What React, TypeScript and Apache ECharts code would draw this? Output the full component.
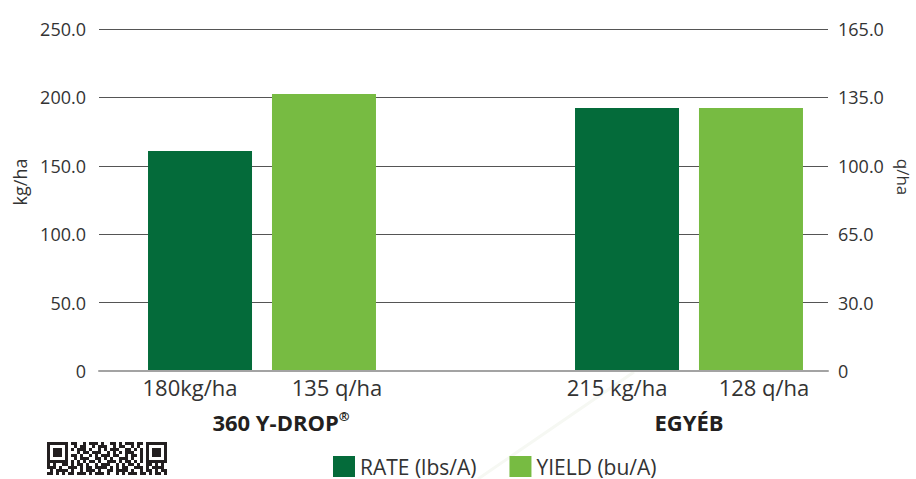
import React, { useEffect, useRef } from "react";
import * as echarts from "echarts";

const categories = ["360 Y-DROP®", "EGYÉB"];
const rateValues = [160.8, 192.3];
const yieldValues = [133.6, 126.9];
const rateLabels = ["180kg/ha", "215 kg/ha"];
const yieldLabels = ["135 q/ha", "128 q/ha"];
const seriesNames = ["RATE (lbs/A)", "YIELD (bu/A)"];
const leftAxisName = "kg/ha";
const rightAxisName = "q/ha";
const leftMax = 250;
const leftInterval = 50;
const rightMax = 165;
const rightInterval = 33;
const rightTickLabels = ["0", "30.0", "65.0", "100.0", "135.0", "165.0"];

const DARK = "#046b3a";
const LIGHT = "#77bb42";
const TEXT = "#333333";
const FONT = "'Open Sans', sans-serif";

const finder = ["#######", "#.....#", "#.###.#", "#.###.#", "#.###.#", "#.....#", "#######"];
const qrMiddle = [
  "##..#.###.#..##.#.###.##",
  ".#.##..#.###..#.##..#.#.",
  "#.###.#..#.#.###..##.#.#",
  "..#.##.###..#.#.#.###..#",
  "##.#..#.#.###.##..#.##.#",
  ".#.###..##.#.#..###.#..#",
  "#.#.#.##.#..###.#.##.#.#",
];
const qrBottom = [
  "#.#..##.#.##.#..#.###..#.#.##.#..##.#.#.",
  "###.#..###.#.##.####.#.#.##..###.#.####.",
  ".#.####.#..#.###.#..##.####.#..#.##.#.##",
  "##.#.#.##.###.#.###.#..#.#.###.##.#.##.#",
];
const qrRows = [
  ...finder.map((f, i) => f + "." + qrMiddle[i] + "." + f),
  ...qrBottom,
].map((r) => r.padEnd(40, ".").slice(0, 40));

function qrRects() {
  const out: any[] = [];
  const m = 3;
  qrRows.forEach((row, r) => {
    let c = 0;
    while (c < row.length) {
      if (row[c] === "#") {
        const s = c;
        while (c < row.length && row[c] === "#") c++;
        out.push({
          type: "rect",
          shape: { x: 47 + s * m, y: 442 + r * m, width: (c - s) * m, height: m },
          style: { fill: "#231f20" },
        });
      } else c++;
    }
  });
  return out;
}

export default function App() {
  const ref = useRef<HTMLDivElement>(null);
  useEffect(() => {
    if (!ref.current) return;
    const chart = echarts.init(ref.current, null, { renderer: "svg" });
    const gridTop = 29;
    const gridBottom = 108;
    chart.setOption({
      animation: false,
      backgroundColor: "#ffffff",
      textStyle: { fontFamily: FONT },
      grid: [
        { left: 99, right: 88, top: gridTop, bottom: gridBottom, containLabel: false, outerBoundsMode: "none" },
        { left: 48.5, right: 13.5, top: gridTop, bottom: gridBottom, containLabel: false, outerBoundsMode: "none" },
      ],
      xAxis: [
        {
          type: "category",
          gridIndex: 0,
          data: [""],
          z: 3,
          axisLine: { show: true, lineStyle: { color: "#a3a3a3", width: 2 } },
          axisTick: { show: false },
          axisLabel: { show: false },
          splitLine: { show: false },
        },
        {
          type: "category",
          gridIndex: 1,
          data: categories,
          axisLine: { show: false },
          axisTick: { show: false },
          splitLine: { show: false },
          axisLabel: {
            margin: 38,
            interval: 0,
            formatter: (v: string) =>
              v.endsWith("®")
                ? `{pad|\u00a0}{b|${v.slice(0, -1)}}{sup|®}`
                : `{b|${v}}`,
            rich: {
              pad: { width: 38, fontSize: 22, lineHeight: 26 },
              b: { fontSize: 22, fontWeight: "bold", color: "#231f20", fontFamily: FONT, lineHeight: 26 },
              sup: { fontSize: 13, fontWeight: "bold", color: "#231f20", fontFamily: FONT, verticalAlign: "top", lineHeight: 22 },
            },
          },
        },
      ],
      yAxis: [
        {
          type: "value",
          gridIndex: 0,
          min: 0,
          max: leftMax,
          interval: leftInterval,
          position: "left",
          axisLine: { show: false },
          axisTick: { show: false },
          splitLine: { show: true, lineStyle: { color: "#555555", width: 1 } },
          axisLabel: {
            margin: 13,
            fontSize: 18,
            color: TEXT,
            fontFamily: FONT,
            formatter: (v: number) => (v === 0 ? "0" : v.toFixed(1)),
          },
        },
        {
          type: "value",
          gridIndex: 0,
          min: 0,
          max: rightMax,
          interval: rightInterval,
          position: "right",
          axisLine: { show: false },
          axisTick: { show: false },
          splitLine: { show: false },
          axisLabel: {
            margin: 10,
            fontSize: 18,
            color: TEXT,
            fontFamily: FONT,
            formatter: (_v: number, i: number) => rightTickLabels[i] ?? "",
          },
        },
        { type: "value", gridIndex: 1, min: 0, max: leftMax, show: false, splitLine: { show: false } },
        { type: "value", gridIndex: 1, min: 0, max: rightMax, show: false, splitLine: { show: false } },
      ],
      legend: {
        left: 333,
        top: 456,
        padding: 0,
        itemWidth: 22,
        itemHeight: 21,
        itemGap: 33,
        icon: "rect",
        textStyle: { fontSize: 21, color: TEXT, fontFamily: FONT, lineHeight: 21 },
        data: seriesNames,
      },
      series: [
        {
          name: seriesNames[0],
          type: "bar",
          xAxisIndex: 1,
          yAxisIndex: 2,
          data: rateValues,
          barWidth: 104,
          barGap: "19.2%",
          itemStyle: { color: DARK },
          label: {
            show: true,
            position: "bottom",
            distance: 5,
            offset: [-10, 0],
            fontSize: 22,
            color: TEXT,
            fontFamily: FONT,
            formatter: (p: any) => rateLabels[p.dataIndex],
          },
        },
        {
          name: seriesNames[1],
          type: "bar",
          xAxisIndex: 1,
          yAxisIndex: 3,
          data: yieldValues,
          barWidth: 104,
          barGap: "19.2%",
          itemStyle: { color: LIGHT },
          label: {
            show: true,
            position: "bottom",
            distance: 5,
            offset: [13, 0],
            fontSize: 22,
            color: TEXT,
            fontFamily: FONT,
            formatter: (p: any) => yieldLabels[p.dataIndex],
          },
        },
      ],
      graphic: [
        {
          type: "line",
          z: -1,
          shape: { x1: 634, y1: 372, x2: 478, y2: 479 },
          style: { stroke: "#f6f8f3", lineWidth: 3 },
          silent: true,
        },
        {
          type: "text",
          x: 20,
          y: 182,
          rotation: Math.PI / 2,
          style: { text: leftAxisName, fontSize: 18, fill: TEXT, fontFamily: FONT, align: "center", verticalAlign: "middle" },
        },
        {
          type: "text",
          x: 903,
          y: 177,
          rotation: -Math.PI / 2,
          style: { text: rightAxisName, fontSize: 17, fill: TEXT, fontFamily: FONT, align: "center", verticalAlign: "middle" },
        },
        { type: "group", children: qrRects() },
      ],
    });
    return () => chart.dispose();
  }, []);
  return (
    <div
      ref={ref}
      style={{ position: "fixed", left: 0, top: 0, width: 916, height: 479, background: "#fff" }}
    />
  );
}
